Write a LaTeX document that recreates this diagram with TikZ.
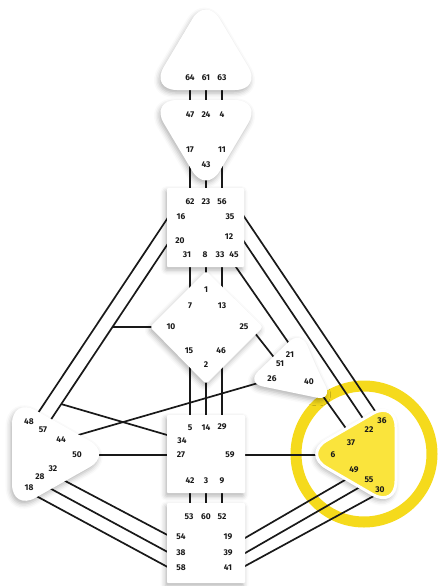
\documentclass[tikz,border=0pt]{standalone}
\usepackage{fontspec}
\setmainfont{Fira Sans}
\usetikzlibrary{shadows.blur}
\definecolor{ringY}{RGB}{245,218,28}
\definecolor{fillY}{RGB}{250,228,60}
\definecolor{ink}{RGB}{25,25,25}
\begin{document}
\begin{tikzpicture}[x=1pt,y=-1pt,
  gate/.style={font=\bfseries\fontsize{8.4}{9}\selectfont, text=ink, inner sep=0pt},
  chan/.style={line width=1.7pt, draw=ink},
  centre/.style={fill=white, blur shadow={shadow xshift=-1.5pt, shadow yshift=-3pt, shadow blur radius=5pt, shadow opacity=30}},
  ring/.style={draw=ringY, line width=11pt}
]
\useasboundingbox (0,0) rectangle (437,586);

% ---- highlight ring (behind everything)
\coordinate (ringc) at (364,454);
\draw[ring] (ringc) circle[radius=68];

% ---- channel end points
% head - ajna
\coordinate (a1) at (190,80);  \coordinate (b1) at (190,110);
\coordinate (a2) at (206,80);  \coordinate (b2) at (206,110);
\coordinate (a3) at (222,80);  \coordinate (b3) at (222,110);
% ajna - throat
\coordinate (c1) at (190,150); \coordinate (d1) at (190,195);
\coordinate (c2) at (206,165); \coordinate (d2) at (206,195);
\coordinate (c3) at (222,150); \coordinate (d3) at (222,195);
% throat - G - sacral
\coordinate (e1) at (190,260); \coordinate (f1) at (190,428);
\coordinate (e2) at (206,260); \coordinate (f2) at (206,290);
\coordinate (e3) at (222,260); \coordinate (f3) at (222,428);
\coordinate (k2) at (206,365); \coordinate (l2) at (206,428);
% sacral - root
\coordinate (m1) at (190,481); \coordinate (n1) at (190,517);
\coordinate (m2) at (206,481); \coordinate (n2) at (206,517);
\coordinate (m3) at (222,481); \coordinate (n3) at (222,517);
% throat - spleen
\coordinate (t16) at (175,207);   \coordinate (s48) at (35,417.5);
\coordinate (t20) at (175,233);   \coordinate (s57) at (44,430);
\coordinate (j10) at (112.5,327); \coordinate (g10) at (160,327);
\coordinate (j34) at (61,404);    \coordinate (sa34) at (175,437.3);
% spleen - ego / sacral / root
\coordinate (s44) at (61,440);    \coordinate (e26) at (272,379);
\coordinate (s50) at (90,455);    \coordinate (sa27) at (175,455);
\coordinate (s32) at (55,475.6);  \coordinate (r54) at (175,539);
\coordinate (s28) at (45,485.6);  \coordinate (r38) at (175,556);
\coordinate (s18) at (32,493.7);  \coordinate (r58) at (175,571);
% solar plexus - root / sacral
\coordinate (p49) at (355,474.2); \coordinate (r19) at (240,540.9);
\coordinate (p55) at (368,482.4); \coordinate (r39) at (240,556);
\coordinate (p30) at (380,492.6); \coordinate (r41) at (240,568.8);
\coordinate (p6) at (330,455);    \coordinate (sa59) at (240,455);
% throat - solar plexus / ego
\coordinate (t35) at (238,207.6); \coordinate (p36) at (382,421.3);
\coordinate (t12) at (238,232.6); \coordinate (p22) at (369,427.4);
\coordinate (t45) at (234,264.2); \coordinate (e21) at (292,347.8);
\coordinate (e40) at (312,380.8); \coordinate (p37) at (351,435.4);
\coordinate (g25) at (247,323);   \coordinate (e51) at (280,365);

% ---- channels
\draw[chan] (a1) -- (b1); \draw[chan] (a2) -- (b2); \draw[chan] (a3) -- (b3);
\draw[chan] (c1) -- (d1); \draw[chan] (c2) -- (d2); \draw[chan] (c3) -- (d3);
\draw[chan] (e1) -- (f1); \draw[chan] (e2) -- (f2); \draw[chan] (e3) -- (f3);
\draw[chan] (k2) -- (l2);
\draw[chan] (m1) -- (n1); \draw[chan] (m2) -- (n2); \draw[chan] (m3) -- (n3);
\draw[chan] (t16) -- (s48);
\draw[chan] (t20) -- (s57);
\draw[chan] (g10) -- (j10);
\draw[chan] (j34) -- (sa34);
\draw[chan] (s44) -- (e26);
\draw[chan] (s50) -- (sa27);
\draw[chan] (s32) -- (r54);
\draw[chan] (s28) -- (r38);
\draw[chan] (s18) -- (r58);
\draw[chan] (p49) -- (r19);
\draw[chan] (p55) -- (r39);
\draw[chan] (p30) -- (r41);
\draw[chan] (p6) -- (sa59);
\draw[chan] (t35) -- (p36);
\draw[chan] (t12) -- (p22);
\draw[chan] (t45) -- (e21);
\draw[chan] (e40) -- (p37);
\draw[chan] (g25) -- (e51);

% ---- centres
% head
\path[centre, rounded corners=27] (206,90) -- (262,90) -- (206,-4) -- (150,90) -- cycle;
% ajna
\path[centre, rounded corners=27] (206,100) -- (262,100) -- (206,194) -- (150,100) -- cycle;
% throat
\path[centre, rounded corners=1] (167,188) rectangle (244,267);
% G
\path[centre, rounded corners=3] (206,271) -- (263,327) -- (206,384) -- (150,327) -- cycle;
% ego
\path[centre, rounded corners=17] (316,367) -- (333,401) -- (246,383) -- (301,330) -- cycle;
% spleen
\path[centre, rounded corners=27] (12,454) -- (12,397) -- (113,454) -- (12,511) -- cycle;
% solar plexus
\path[fill=fillY, draw=white, line width=3pt, rounded corners=27,
  blur shadow={shadow xshift=-1.5pt, shadow yshift=-3pt, shadow blur radius=5pt, shadow opacity=30}]
  (396,454) -- (396,400) -- (303,454) -- (396,508) -- cycle;
% sacral
\path[centre, rounded corners=1] (167,415) rectangle (245,493);
% root
\path[centre, rounded corners=1] (167,503) rectangle (245,583);

% ---- gates
% head
\node[gate] (g64) at (190,78) {64};
\node[gate] (g61) at (206,78) {61};
\node[gate] (g63) at (222,78) {63};
% ajna
\node[gate] (g47) at (190,115) {47};
\node[gate] (g24) at (206,115) {24};
\node[gate] (g4)  at (222,115) {4};
\node[gate] (g17) at (190,150) {17};
\node[gate] (g11) at (222,150) {11};
\node[gate] (g43) at (206,165) {43};
% throat
\node[gate] (g62) at (190,202) {62};
\node[gate] (g23) at (206,202) {23};
\node[gate] (g56) at (222,202) {56};
\node[gate] (g16) at (181,217) {16};
\node[gate] (g35) at (230,217) {35};
\node[gate] (g20) at (180,241) {20};
\node[gate] (g12) at (229,237) {12};
\node[gate] (g31) at (187,255) {31};
\node[gate] (g8)  at (205,255) {8};
\node[gate] (g33) at (220,255) {33};
\node[gate] (g45) at (234,255) {45};
% G
\node[gate] (g1)  at (206,290) {1};
\node[gate] (g7)  at (190,306) {7};
\node[gate] (g13) at (222,306) {13};
\node[gate] (gg10) at (171,327) {10};
\node[gate] (gg25) at (244,327) {25};
\node[gate] (g15) at (189,351) {15};
\node[gate] (g46) at (221,351) {46};
\node[gate] (g2)  at (206,365) {2};
% ego
\node[gate] (g21) at (290,355) {21};
\node[gate] (g51) at (280,364) {51};
\node[gate] (g26) at (272,379) {26};
\node[gate] (g40) at (309,382) {40};
% spleen
\node[gate] (g48) at (29,422) {48};
\node[gate] (g57) at (43,430) {57};
\node[gate] (g44) at (61,440) {44};
\node[gate] (g50) at (77,455) {50};
\node[gate] (g32) at (53,469) {32};
\node[gate] (g28) at (40,477) {28};
\node[gate] (g18) at (29,488) {18};
% solar plexus
\node[gate] (g36) at (382,421) {36};
\node[gate] (g22) at (369,430) {22};
\node[gate] (g37) at (351,443) {37};
\node[gate] (g6)  at (333,455) {6};
\node[gate] (g49) at (354,470) {49};
\node[gate] (g55) at (369,480) {55};
\node[gate] (g30) at (380,490) {30};
% sacral
\node[gate] (g5)  at (190,428) {5};
\node[gate] (g14) at (206,428) {14};
\node[gate] (g29) at (222,427) {29};
\node[gate] (g34) at (182,441) {34};
\node[gate] (g27) at (181,455) {27};
\node[gate] (g59) at (230,455) {59};
\node[gate] (g42) at (190,481) {42};
\node[gate] (g3)  at (206,481) {3};
\node[gate] (g9)  at (222,481) {9};
% root
\node[gate] (g53) at (189,517) {53};
\node[gate] (g60) at (206,517) {60};
\node[gate] (g52) at (222,517) {52};
\node[gate] (g54) at (181,537) {54};
\node[gate] (g19) at (228,537) {19};
\node[gate] (g38) at (181,553) {38};
\node[gate] (g39) at (228,553) {39};
\node[gate] (g58) at (181,568) {58};
\node[gate] (g41) at (228,568) {41};
\end{tikzpicture}
\end{document}
